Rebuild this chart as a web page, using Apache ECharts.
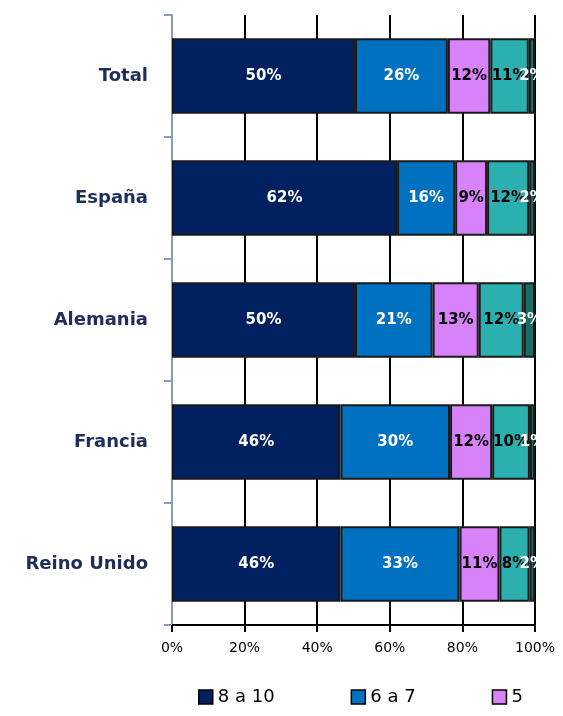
<!DOCTYPE html>
<html>
<head>
<meta charset="utf-8">
<script src="https://cdn.jsdelivr.net/npm/echarts@6/dist/echarts.min.js"></script>
<style>
  html, body { margin: 0; padding: 0; background: #fff; }
  #main { width: 563px; height: 716px; }
</style>
</head>
<body>
<div id="main"></div>
<script>
// categorías (de arriba abajo)
var categories = ['Total', 'España', 'Alemania', 'Francia', 'Reino Unido'];
// porcentajes por grupo de nota
var s8a10 = [50.4, 62.0, 50.4, 46.4, 46.4];
var s6a7  = [25.6, 16.0, 21.4, 30.2, 32.8];
var s5    = [11.7,  8.8, 12.7, 11.6, 11.0];
var s3a4  = [10.6, 11.6, 12.4, 10.4,  8.3];
var s0a2  = [ 1.7,  1.6,  3.1,  1.4,  1.5];
var xTicks = [0, 20, 40, 60, 80, 100];

var names = ['8 a 10', '6 a 7', '5', '3 a 4', '0 a 2'];
var values = [s8a10, s6a7, s5, s3a4, s0a2];
var colors = ['#002060', '#0070C0', '#D882F9', '#2BB0AF', '#1C6B62'];
var labelColors = ['#fff', '#fff', '#000', '#000', '#fff'];

var myChart = echarts.init(document.getElementById('main'));

var series = values.map(function (d, i) {
    return {
        name: names[i],
        type: 'bar',
        stack: 'total',
        barCategoryGap: '38%',
        data: d,
        itemStyle: { color: colors[i], borderColor: '#1a1a1a', borderWidth: 2 },
        label: {
            show: true,
            position: 'inside',
            color: labelColors[i],
            fontFamily: 'DejaVu Sans',
            fontWeight: 'bold',
            fontSize: 15,
            formatter: function (p) { return Math.round(p.value) + '%'; }
        }
    };
});

myChart.setOption({
    animation: false,
    grid: { left: 172, right: 28, top: 15, bottom: 91 },
    legend: {
        data: names.slice(0, 3),
        left: 193,
        top: 683,
        itemWidth: 14,
        itemHeight: 14,
        itemGap: 76,
        icon: 'rect',
        itemStyle: { borderColor: '#000', borderWidth: 1.5 },
        textStyle: { fontFamily: 'DejaVu Sans', fontSize: 18, color: '#000' }
    },
    xAxis: {
        type: 'value',
        min: xTicks[0],
        max: xTicks[xTicks.length - 1],
        interval: 20,
        axisLine: { show: true, lineStyle: { color: '#000', width: 2 } },
        axisTick: { show: true, length: 7, lineStyle: { color: '#000', width: 2 } },
        splitLine: { show: true, lineStyle: { color: '#000', width: 2 } },
        axisLabel: {
            margin: 16,
            color: '#000',
            fontFamily: 'DejaVu Sans',
            fontSize: 14,
            formatter: '{value}%'
        }
    },
    yAxis: {
        type: 'category',
        inverse: true,
        data: categories,
        axisLine: { show: true, lineStyle: { color: '#8C9BBA', width: 2 } },
        axisTick: { show: true, length: 8, lineStyle: { color: '#8C9BBA', width: 2 } },
        axisLabel: {
            margin: 24,
            color: '#1F2D5C',
            fontFamily: 'DejaVu Sans',
            fontWeight: 'bold',
            fontSize: 18
        }
    },
    series: series
});
</script>
</body>
</html>
